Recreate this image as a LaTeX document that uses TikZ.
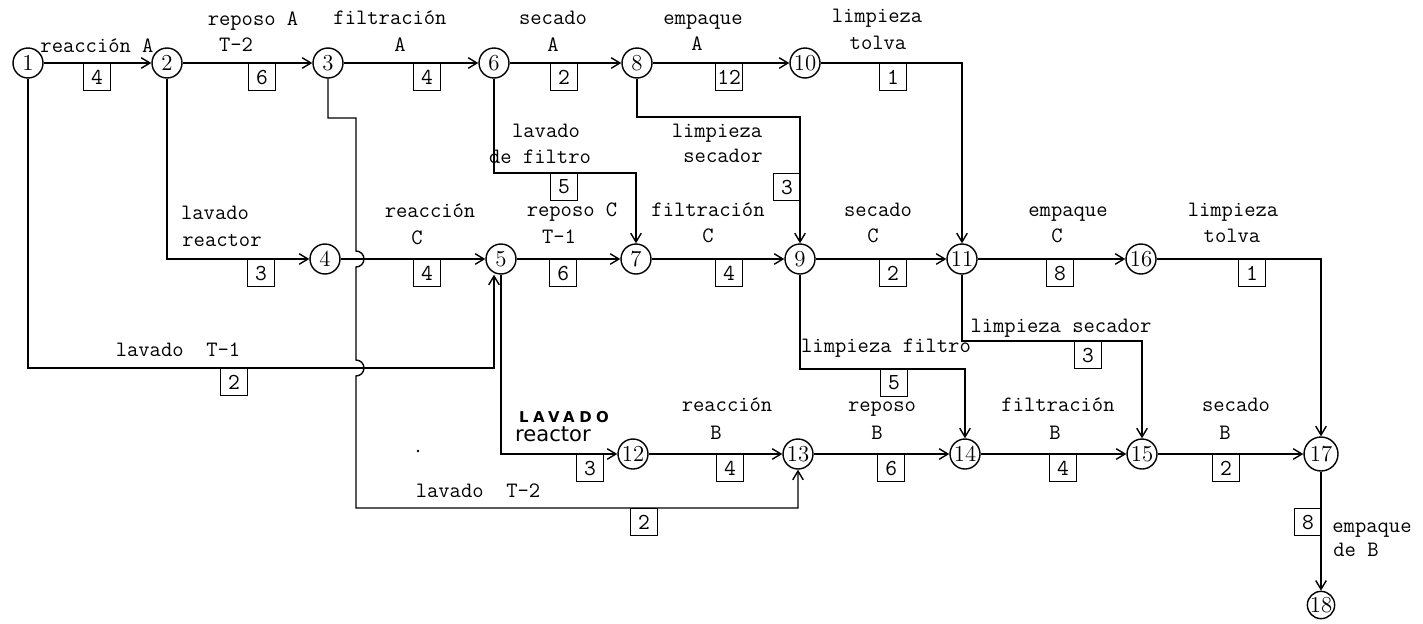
\documentclass[tikz,border=0pt]{standalone}
\usepackage{fontspec}
\usetikzlibrary{arrows.meta,calc}
\newfontfamily\sansfont{DejaVu Sans}
\newfontfamily\capfont[LetterSpace=30]{DejaVu Sans}
\begin{document}
\begin{tikzpicture}[x=.02cm,y=-.02cm,line width=.8pt,>={Straight Barb[length=5pt,width=6pt]},
  every node/.style={font=\fontsize{12.5}{15}\ttfamily},
  ev/.style={draw,circle,minimum size=.6cm,inner sep=0pt,font=\fontsize{13}{15}\rmfamily},
  dur/.style={draw,anchor=north west,minimum width=.54cm,minimum height=.54cm,inner sep=0pt,line width=.7pt,
    font=\fontsize{13}{15}\ttfamily},
  lab/.style={text height=1.6ex,text depth=.3ex,inner sep=0pt}]
\useasboundingbox (0,0) rectangle (1423,623);
\foreach \n/\x/\y in {1/28/63,2/167/63,3/328/63,6/494/63,8/637/63,10/805/63,
  4/325/259,5/501/259,7/636/259,9/800/259,11/962/259,16/1141/259,
  12/633/454,13/798/454,14/965/454,15/1142/454}
  \node[ev] (n\n) at (\x,\y) {\n};
\node[ev,minimum size=.68cm] (n17) at (1321,454) {17};
\node[ev,minimum size=.52cm] (n18) at (1321,605) {18};
\foreach \a/\b in {1/2,2/3,3/6,6/8,8/10,4/5,5/7,7/9,9/11,11/16,12/13,13/14,14/15,15/17}
  \draw[->] (n\a) -- (n\b);
\coordinate (k1) at (494,368);
\coordinate (k3) at (356,118);
\coordinate (h1) at (356,259);
\coordinate (h2) at (356,368);
\coordinate (k13) at (356,508);
\coordinate (k6) at (494,173);
\coordinate (k8) at (637,117);
\coordinate (k9) at (800,369);
\coordinate (k11) at (962,341);
\draw[->] (n1) |- (k1) -- (k1 |- n5.south);
\draw[->] (n2) |- (n4);
\draw[->] (n3) |- (k3) -- ($(h1)+(0,-8)$) arc[start angle=-90,end angle=90,radius=8]
  -- ($(h2)+(0,-8)$) arc[start angle=-90,end angle=90,radius=8] -- (k13) -| (n13);
\draw[->] (n5) |- (n12);
\draw[->] (n6) -- (k6) -| (n7);
\draw[->] (n8) -- (k8) -| (n9);
\draw[->] (n10) -| (n11);
\draw[->] (n9) -- (k9) -| (n14);
\draw[->] (n11) -- (k11) -| (n15);
\draw[->] (n16) -| (n17);
\draw[->] (n17) -- (n18);
\foreach \x/\y/\v/\m in {83/63/4/d12,248/63/6/d23,413/63/4/d36,550/63/2/d68,715/63/12/d810,879/63/1/d1011,
  550/173/5/d67,773/173/3/d89,247/259/3/d24,413/259/4/d45,549/259/6/d57,715/259/4/d79,879/259/2/d911,
  1046/259/8/d1116,1238/259/1/d1617,220/368/2/d15,880/369/5/d914,1074/341/3/d1115,576/454/3/d512,
  716/454/4/d1213,877/454/6/d1314,1049/454/4/d1415,1212/454/2/d1517,630/508/2/d313,1294/508/8/d1718}
  \node[dur] (\m) at (\x,\y) {\v};
\foreach \x/\y/\t/\m in {97/48/{reacción A}/l12,253/21/{reposo A}/l23a,236/47/{T-2}/l23b,
  390/20/{filtración}/l36a,400/47/A/l36b,553/20/secado/l68a,553/47/A/l68b,
  703/20/empaque/l810a,697/46/A/l810b,877/18/limpieza/l1011a,878/45/tolva/l1011b,
  546/133/lavado/l67a,540/159/{de filtro}/l67b,717/133/limpieza/l89a,723/158/secador/l89b,
  215/215/lavado/l24a,222/242/reactor/l24b,430/213/{reacción}/l45a,417/240/C/l45b,
  572/212/{reposo C}/l57a,559/239/{T-1}/l57b,708/212/{filtración}/l79a,708/238/C/l79b,
  878/212/secado/l911a,873/238/C/l911b,1068/212/empaque/l1116a,1057/238/C/l1116b,
  1233/212/limpieza/l1617a,1232/238/tolva/l1617b,178/352/{lavado~~T-1}/l15,
  886/348/{limpieza filtro}/l914,1061/328/{limpieza secador}/l1115,
  727/407/{reacción}/l1213a,716/435/B/l1213b,882/407/reposo/l1314a,877/435/B/l1314b,
  1058/407/{filtración}/l1415a,1055/435/B/l1415b,1236/407/secado/l1517a,1225/435/B/l1517b,
  478/493/{lavado~~T-2}/l313,1372/528/empaque/l1718a,1356/552/{de B}/l1718b}
  \node[lab] (\m) at (\x,\y) {\t};
\node[lab,font=\capfont\bfseries\fontsize{8.5}{10}\selectfont] (l512a) at (564,418) {LAVADO};
\node[lab,font=\sansfont\fontsize{12}{14}\selectfont] (l512b) at (553,437) {reactor};
\fill (418,451) circle (1.3);
\end{tikzpicture}
\end{document}
